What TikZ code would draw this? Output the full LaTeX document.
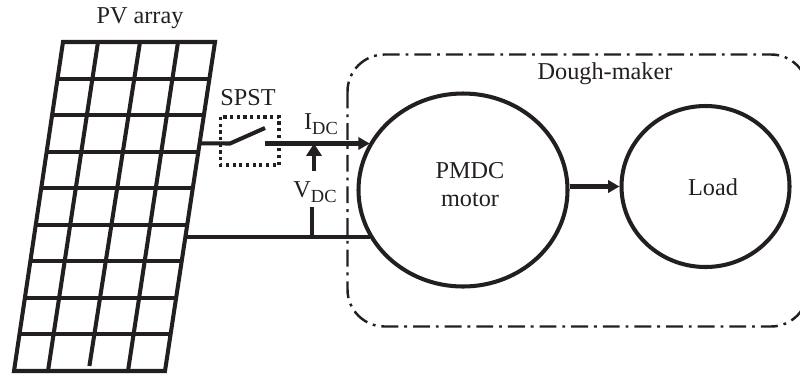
\documentclass[tikz,border=0pt]{standalone}
\usepackage{fontspec}
\setmainfont{Liberation Serif}
\usetikzlibrary{arrows.meta,calc,shapes.geometric}
\definecolor{ink}{HTML}{231F20}
\newcommand{\lowsub}[1]{\raisebox{-0.22em}{\fontsize{10.5}{10.5}\selectfont #1}}
\tikzset{
  wire/.style={line width=2.3pt, draw=ink},
  blob/.style={ellipse, draw=ink, line width=2.3pt, inner sep=0pt},
  lbl/.style={text=ink, font=\fontsize{13.8}{16}\selectfont, align=center, inner sep=0pt},
  tip/.style={-{Triangle[length=6.5pt,width=7pt]}}
}
\begin{document}
\begin{tikzpicture}[x=0.02cm, y=-0.02cm]
        \useasboundingbox (0,0) rectangle (800,376);
        \clip (0,0) rectangle (800,376);

        % Corners of the panel
        \coordinate (tl) at (63,42);
        \coordinate (tr) at (215,42);
        \coordinate (br) at (165,371);
        \coordinate (bl) at (14,371);

        % Draw the panel grid
        \draw[wire] (tl) -- (tr) -- (br) -- (bl) -- cycle;
        \foreach \i in {1,...,8} {
          \draw[wire] ($(tl)!\i/9!(bl)$) -- ($(tr)!\i/9!(br)$);
        }
        \foreach \a/\b in {98/48,178/128} {
          \draw[wire] (\a,42) -- (\b,371);
        }
        % This one stops short of the frame
        \draw[wire] (140,42) -- (89.4,366);

        % The two circles
        \node[blob, minimum width=0.02cm*209, minimum height=0.02cm*193] (motor) at (463,190) {};
        \node[blob, minimum width=0.02cm*168, minimum height=0.02cm*161] (load) at (705.5,186.5) {};
        \node[lbl] (motortext) at (470,185) {PMDC\\motor};
        \node[lbl] (loadtext) at (713,187) {Load};

        % Outer dash-dot box, runs past the right edge
        \draw[draw=ink, line width=1.4pt, rounded corners=0.02cm*37,
              dash pattern=on 9.6pt off 3.4pt on 1.6pt off 3.4pt]
              (347.5,54.5) rectangle (808,326.5);
        \node[lbl] (dough) at (605,74) {Dough-maker};

        % Switch
        \draw[draw=ink, line width=1.9pt, dash pattern=on 1.8pt off 2pt]
              (220.5,117) rectangle (279,165);
        \coordinate (pvtop) at ($(tr)!0.308!(br)$);
        \coordinate (pvbot) at ($(tr)!0.593!(br)$);
        \coordinate (hinge) at (230,143.5);
        \coordinate (bladeend) at (265,128);
        \coordinate (contact) at (265,143.5);
        \draw[wire] (pvtop) -- (hinge) -- (bladeend);
        \draw[wire, tip] (contact) -- (contact -| motor.153);
        \draw[wire] (pvbot) -- (pvbot -| motor.207);
        \draw[wire, tip] (load.west -| motor.east) -- (load.west);

        % Voltage marks
        \coordinate (vtop) at (314,143.5);
        \coordinate (vbot) at (314,171);
        \coordinate (stubtop) at (312,207);
        \coordinate (stubbot) at (312,237);
        \draw[wire, -{Triangle[length=7pt,width=8.5pt]}] (vbot) -- (vtop);
        \draw[wire] (stubtop) -- (stubbot);

        % Labels
        \node[lbl] (pvlabel) at (140,18) {PV array};
        \node[lbl] (spst) at (248,98) {SPST};
        \node[lbl] (idc) at (321,124) {I\lowsub{DC}};
        \node[lbl] (vdc) at (315,192) {V\lowsub{DC}};
      \end{tikzpicture}
\end{document}
